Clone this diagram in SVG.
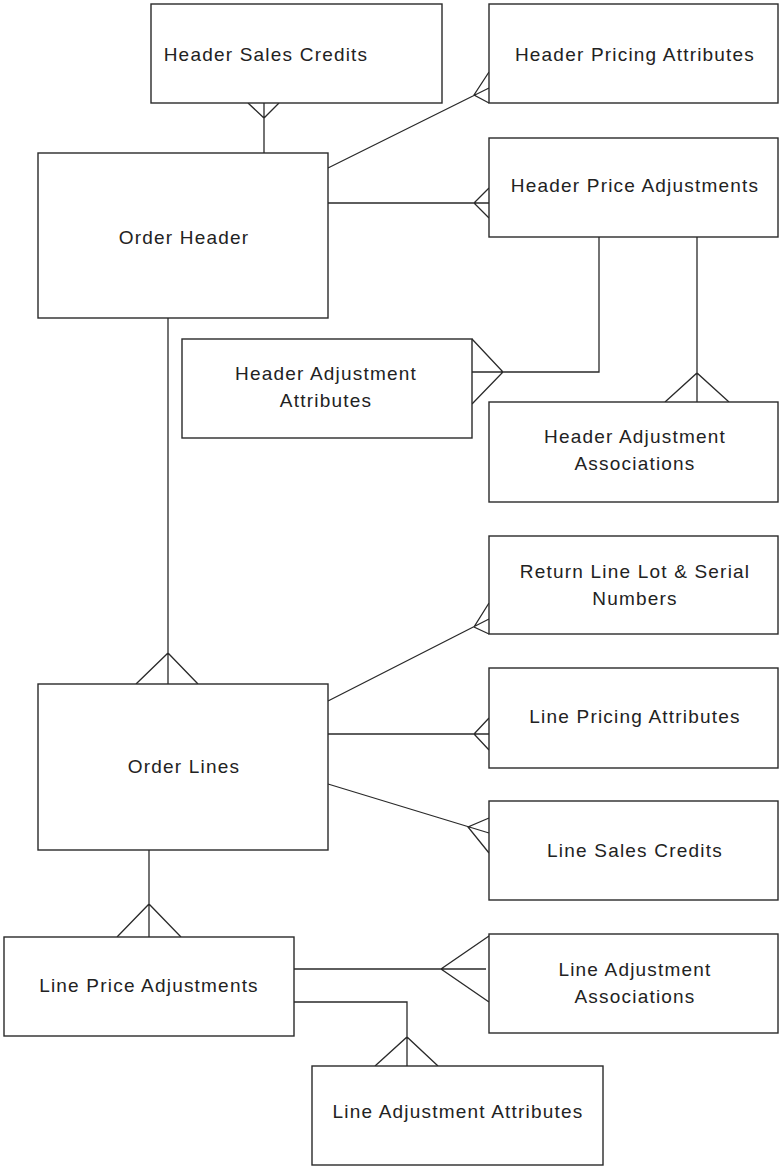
<svg xmlns="http://www.w3.org/2000/svg" width="780" height="1167" viewBox="0 0 780 1167">
  <style>
    .box { fill: #ffffff; stroke: #2a2a2a; stroke-width: 1.4; }
    .conn { fill: none; stroke: #2a2a2a; stroke-width: 1.3; }
    .lbl { font-family: "Liberation Sans", Arial, sans-serif; font-size: 19px; letter-spacing: 1.2px; fill: #222222; text-anchor: middle; }
  </style>
  <rect width="780" height="1167" fill="#ffffff"/>

  <!-- relationship lines with crow's-foot ends -->
  <g id="connectors" class="conn">
    <path d="M264,103 V153 M248,103 L264,118 L279,103"/>
    <path d="M328,168 L489,88 M489,72 L474,95 L489,103"/>
    <path d="M328,203 H489 M489,188 L474,203 L489,218"/>
    <path d="M599,237 V372 H472 M472,339 L503,372 L472,404"/>
    <path d="M697,237 V402 M665,402 L697,373 L729,402"/>
    <path d="M168,318 V684 M136,684 L168,653 L198,684"/>
    <path d="M328,701 L489,619 M489,603 L474,627 L489,634"/>
    <path d="M328,734 H489 M489,718 L474,734 L489,750"/>
    <path d="M328,784 L489,833 M489,818 L468,827 L489,853"/>
    <path d="M149,850 V937 M117,937 L149,904 L181,937"/>
    <path d="M294,969 H486 M489,936 L441,969 L489,1002"/>
    <path d="M294,1002 H407 V1066 M375,1066 L407,1037 L438,1066"/>
  </g>

  <g id="header-sales-credits">
    <rect class="box" x="151" y="4" width="291" height="99"/>
    <text class="lbl" x="266" y="61">Header Sales Credits</text>
  </g>
  <g id="header-pricing-attributes">
    <rect class="box" x="489" y="4" width="289" height="99"/>
    <text class="lbl" x="635" y="61">Header Pricing Attributes</text>
  </g>
  <g id="order-header">
    <rect class="box" x="38" y="153" width="290" height="165"/>
    <text class="lbl" x="184" y="244">Order Header</text>
  </g>
  <g id="header-price-adjustments">
    <rect class="box" x="489" y="138" width="289" height="99"/>
    <text class="lbl" x="635" y="192">Header Price Adjustments</text>
  </g>
  <g id="header-adjustment-attributes">
    <rect class="box" x="182" y="339" width="290" height="99"/>
    <text class="lbl" x="326" y="380">Header Adjustment</text>
    <text class="lbl" x="326" y="407">Attributes</text>
  </g>
  <g id="header-adjustment-associations">
    <rect class="box" x="489" y="402" width="289" height="100"/>
    <text class="lbl" x="635" y="443">Header Adjustment</text>
    <text class="lbl" x="635" y="470">Associations</text>
  </g>
  <g id="return-line-lot-serial">
    <rect class="box" x="489" y="536" width="289" height="98"/>
    <text class="lbl" x="635" y="578">Return Line Lot &amp; Serial</text>
    <text class="lbl" x="635" y="605">Numbers</text>
  </g>
  <g id="order-lines">
    <rect class="box" x="38" y="684" width="290" height="166"/>
    <text class="lbl" x="184" y="773">Order Lines</text>
  </g>
  <g id="line-pricing-attributes">
    <rect class="box" x="489" y="668" width="289" height="100"/>
    <text class="lbl" x="635" y="723">Line Pricing Attributes</text>
  </g>
  <g id="line-sales-credits">
    <rect class="box" x="489" y="801" width="289" height="99"/>
    <text class="lbl" x="635" y="857">Line Sales Credits</text>
  </g>
  <g id="line-price-adjustments">
    <rect class="box" x="4" y="937" width="290" height="99"/>
    <text class="lbl" x="149" y="992">Line Price Adjustments</text>
  </g>
  <g id="line-adjustment-associations">
    <rect class="box" x="489" y="934" width="289" height="99"/>
    <text class="lbl" x="635" y="976">Line Adjustment</text>
    <text class="lbl" x="635" y="1003">Associations</text>
  </g>
  <g id="line-adjustment-attributes">
    <rect class="box" x="312" y="1066" width="291" height="99"/>
    <text class="lbl" x="458" y="1118">Line Adjustment Attributes</text>
  </g>
</svg>
